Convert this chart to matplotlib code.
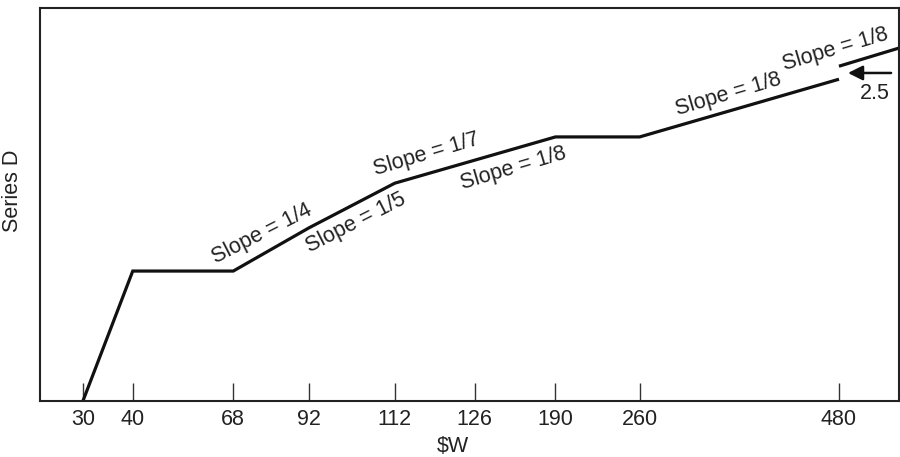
import numpy as np
import matplotlib
matplotlib.use('Agg')
import matplotlib.pyplot as plt

plt.rcParams['font.family'] = ['Liberation Sans', 'DejaVu Sans']

# $W tick values (axis is not to scale)
w_ticks = [30, 40, 68, 92, 112, 126, 190, 260, 480]

# piecewise line, lower part up to 480
w_low = [30, 40, 68, 92, 112, 190, 260, 480]
d_low = [0, 25, 25, 33.3, 41.9, 50.8, 50.8, 61.9]
# part after the 2.5 jump
w_high = [480, 540]
d_high = [64.4, 67.9]

slope_labels = ['Slope = 1/4', 'Slope = 1/5', 'Slope = 1/7', 'Slope = 1/8', 'Slope = 1/8', 'Slope = 1/8']
jump_label = '2.5'

# where each $W value sits along the axis (fraction of width)
brk_vals = [21, 30, 40, 68, 92, 112, 126, 190, 260, 480, 540]
brk_pos = [0.0, 0.050, 0.108, 0.225, 0.313, 0.413, 0.506, 0.600, 0.698, 0.930, 1.0]

def fwd(v):
    return np.interp(v, brk_vals, brk_pos)

def inv(p):
    return np.interp(p, brk_pos, brk_vals)

fig = plt.figure(figsize=(9, 4.57), dpi=100)
ax = fig.add_axes([0.0444, 0.1225, 0.9546, 0.86])
ax.set_xscale('function', functions=(fwd, inv))
ax.set_xlim(21, 540)
ax.set_ylim(0, 75.6)

ax.plot(w_low, d_low, color='#111111', lw=2.3, solid_capstyle='butt', solid_joinstyle='miter')
ax.plot(w_high, d_high, color='#111111', lw=2.3, solid_capstyle='butt')

ax.set_xticks(w_ticks)
ax.set_xticklabels([str(t) for t in w_ticks])
ax.set_yticks([])
ax.tick_params(axis='x', direction='in', length=13, width=1, color='#333333',
               labelsize=15.5, pad=6, labelcolor='#222222')
for s in ax.spines.values():
    s.set_linewidth(1.5)
    s.set_color('#222222')

ax.set_xlabel('$W', fontsize=15.5, color='#222222')
ax.xaxis.set_label_coords(0.481, -0.09)
ax.set_ylabel('Series D', fontsize=15.5, color='#222222')
ax.yaxis.set_label_coords(-0.02, 0.534)

# slope labels: (x, y, rotation)
lab_pos = [(77, 32.2, 27), (103, 34.2, 27), (117.6, 47.5, 16.5),
           (157, 44.8, 16.5), (358, 58.9, 16.5), (475.7, 67.6, 16.5)]
for txt, (x, y, r) in zip(slope_labels, lab_pos):
    ax.text(x, y, txt, fontsize=15.5, rotation=r, rotation_mode='anchor',
            ha='center', va='center', color='#222222')

ax.annotate('', xy=(489, 63.1), xytext=(532, 63.1),
            arrowprops=dict(arrowstyle='-|>', lw=1.8, color='#111111', mutation_scale=22,
                            shrinkA=0, shrinkB=0))
ax.text(516, 59.2, jump_label, fontsize=15.5, ha='center', va='center', color='#222222')

fig.savefig('out.png', dpi=100)
